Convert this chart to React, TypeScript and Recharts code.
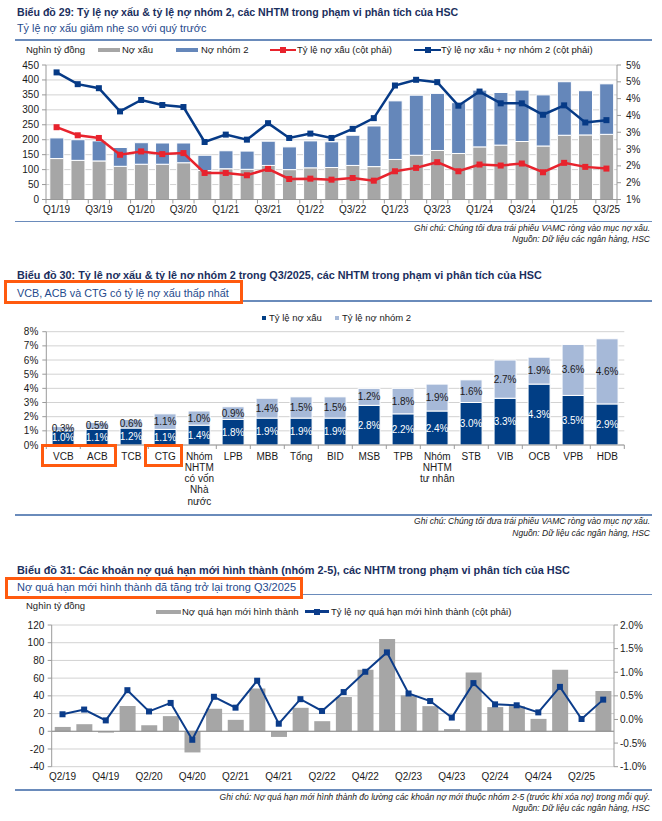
import React from 'react';
import {
  ComposedChart,
  BarChart,
  Bar,
  Line,
  XAxis,
  YAxis,
  CartesianGrid,
  LabelList,
  ReferenceLine,
} from 'recharts';

const FONT = '"Liberation Sans", Arial, Helvetica, sans-serif';
const TITLE_C = '#1B2F5E';
const SUB_C = '#1F4A8C';
const RULE_C = '#6A8BBB';
const ORANGE = '#FF5A0E';
const TEXT_C = '#1a1a1a';
const AXIS_C = '#9a9a9a';
const GRID_C = '#D2D2D2';

// ---------- Chart 29 data ----------
const quarters29 = [
  'Q1/19', 'Q2/19', 'Q3/19', 'Q4/19', 'Q1/20', 'Q2/20', 'Q3/20', 'Q4/20', 'Q1/21', 'Q2/21',
  'Q3/21', 'Q4/21', 'Q1/22', 'Q2/22', 'Q3/22', 'Q4/22', 'Q1/23', 'Q2/23', 'Q3/23', 'Q4/23',
  'Q1/24', 'Q2/24', 'Q3/24', 'Q4/24', 'Q1/25', 'Q2/25', 'Q3/25',
];
const npl29 = [137, 131, 129, 111, 118, 118, 123, 97, 103, 101, 114, 100, 106, 107, 114, 110, 134, 148, 164, 154, 176, 182, 194, 179, 215, 216, 218];
const group2_29 = [69, 69, 67, 63, 72, 71, 66, 51, 60, 61, 81, 76, 90, 86, 101, 136, 196, 201, 191, 170, 190, 176, 172, 171, 179, 148, 169];
const nplRatio29 = [3.15, 2.91, 2.83, 2.33, 2.43, 2.35, 2.38, 1.79, 1.79, 1.72, 1.91, 1.61, 1.62, 1.59, 1.64, 1.56, 1.84, 1.94, 2.11, 1.84, 2.04, 2.01, 2.07, 1.81, 2.09, 1.97, 1.92];
const nplG2Ratio29 = [4.78, 4.43, 4.31, 3.62, 3.96, 3.81, 3.75, 2.71, 2.93, 2.78, 3.27, 2.83, 2.96, 2.83, 3.1, 3.42, 4.39, 4.56, 4.49, 3.79, 4.21, 3.86, 3.86, 3.52, 3.8, 3.29, 3.36];
const leftTicks29 = [0, 50, 100, 150, 200, 250, 300, 350, 400, 450];
const rightTicks29 = [1, 1.5, 2, 2.5, 3, 3.5, 4, 4.5, 5];

// ---------- Chart 30 data ----------
const banks30 = [
  'VCB', 'ACB', 'TCB', 'CTG', 'Nhóm NHTM có vốn Nhà nước', 'LPB', 'MBB', 'Tổng', 'BID', 'MSB',
  'TPB', 'Nhóm NHTM tư nhân', 'STB', 'VIB', 'OCB', 'VPB', 'HDB',
];
const nplRate30 = [1.0, 1.1, 1.2, 1.1, 1.4, 1.8, 1.9, 1.9, 1.9, 2.8, 2.2, 2.4, 3.0, 3.3, 4.3, 3.5, 2.9];
const g2Rate30 = [0.3, 0.5, 0.6, 1.1, 1.0, 0.9, 1.4, 1.5, 1.5, 1.2, 1.8, 1.9, 1.6, 2.7, 1.9, 3.6, 4.6];
const bankTickLines: Record<string, string[]> = {
  'Nhóm NHTM có vốn Nhà nước': ['Nhóm', 'NHTM', 'có vốn', 'Nhà', 'nước'],
  'Nhóm NHTM tư nhân': ['Nhóm', 'NHTM', 'tư nhân'],
};
const ticks30 = [0, 1, 2, 3, 4, 5, 6, 7, 8];

// ---------- Chart 31 data ----------
const quarters31 = [
  'Q2/19', 'Q3/19', 'Q4/19', 'Q1/20', 'Q2/20', 'Q3/20', 'Q4/20', 'Q1/21', 'Q2/21', 'Q3/21',
  'Q4/21', 'Q1/22', 'Q2/22', 'Q3/22', 'Q4/22', 'Q1/23', 'Q2/23', 'Q3/23', 'Q4/23', 'Q1/24',
  'Q2/24', 'Q3/24', 'Q4/24', 'Q1/25', 'Q2/25', 'Q3/25',
];
const newOverdue31 = [4.9, 8.0, -1.5, 28.4, 6.8, 17.1, -23.9, 25.4, 12.9, 48.2, -6.4, 26.5, 11.4, 38.7, 69.4, 104.3, 40.6, 28.4, 2.5, 66.4, 27.3, 28.4, 14.0, 69.4, 0, 45.5];
const newOverdueRatio31 = [0.11, 0.21, -0.02, 0.62, 0.17, 0.35, -0.43, 0.48, 0.25, 0.82, -0.09, 0.43, 0.18, 0.58, 1.01, 1.42, 0.55, 0.39, 0.04, 0.77, 0.32, 0.3, 0.15, 0.69, 0.01, 0.42];
const leftTicks31 = [-40, -20, 0, 20, 40, 60, 80, 100, 120];
const rightTicks31 = [-1, -0.5, 0, 0.5, 1, 1.5, 2];

const data29 = quarters29.map((q, i) => ({ q, npl: npl29[i], g2: group2_29[i], r1: nplRatio29[i], r2: nplG2Ratio29[i] }));
const data30 = banks30.map((b, i) => ({ b, npl: nplRate30[i], g2: g2Rate30[i] }));
const data31 = quarters31.map((q, i) => ({ q, v: newOverdue31[i], r: newOverdueRatio31[i] }));

// ---------- helpers ----------
const Txt = ({ x, y, size = 10, bold = false, italic = false, color = TEXT_C, right, children }: any) => (
  <div
    style={{
      position: 'absolute',
      left: right === undefined ? x : undefined,
      right,
      top: y - size * 0.6,
      fontSize: size,
      lineHeight: `${size * 1.2}px`,
      fontWeight: bold ? 700 : 400,
      fontStyle: italic ? 'italic' : 'normal',
      color,
      fontFamily: FONT,
      whiteSpace: 'nowrap',
    }}
  >
    {children}
  </div>
);

const Rule = ({ x1, x2, y, h = 1.5 }: any) => (
  <div style={{ position: 'absolute', left: x1, top: y - h / 2, width: x2 - x1, height: h, background: RULE_C }} />
);

const Box = ({ x1, y1, x2, y2, b = 3.5 }: any) => (
  <div
    style={{
      position: 'absolute',
      left: x1,
      top: y1,
      width: x2 - x1,
      height: y2 - y1,
      border: `${b}px solid ${ORANGE}`,
      boxSizing: 'border-box',
    }}
  />
);

const Swatch = ({ x1, x2, y, color, h = 4 }: any) => (
  <div style={{ position: 'absolute', left: x1, top: y - h / 2, width: x2 - x1, height: h, background: color }} />
);

const LineSwatch = ({ x1, x2, y, color }: any) => (
  <>
    <div style={{ position: 'absolute', left: x1, top: y - 1.25, width: x2 - x1, height: 2.5, background: color }} />
    <div style={{ position: 'absolute', left: (x1 + x2) / 2 - 3, top: y - 3, width: 6, height: 6, background: color }} />
  </>
);

const squareDot = (color: string, s: number) => (props: any) => {
  const { cx, cy, index } = props;
  if (cx == null || cy == null) return <g key={`e-${index}`} />;
  return <rect key={`d-${index}`} x={cx - s / 2} y={cy - s / 2} width={s} height={s} fill={color} />;
};

const tickStyle = { fontSize: 10, fill: TEXT_C, fontFamily: FONT };

// band tick: boundary tick marks + label every n
const makeBandTick = (bw: number, every: number, count: number, dy: number, marks: boolean) => (props: any) => {
  const { x, y, payload } = props;
  const i = payload?.index ?? props.index ?? 0;
  return (
    <g>
      {marks && <line x1={x - bw / 2} x2={x - bw / 2} y1={y} y2={y + 4} stroke={AXIS_C} />}
      {marks && i === count - 1 && <line x1={x + bw / 2} x2={x + bw / 2} y1={y} y2={y + 4} stroke={AXIS_C} />}
      {i % every === 0 && (
        <text x={x} y={y + dy} textAnchor="middle" fontSize={10} fill={TEXT_C} fontFamily={FONT}>
          {payload.value}
        </text>
      )}
    </g>
  );
};

const BW29 = (617 - 46) / quarters29.length;
const tick29 = makeBandTick(BW29, 2, quarters29.length, 13, true);

const BW30 = (624.3 - 46.3) / banks30.length;
const tick30 = (props: any) => {
  const { x, y, payload } = props;
  const i = payload?.index ?? props.index ?? 0;
  const lines = bankTickLines[payload.value] || [payload.value];
  return (
    <g>
      <line x1={x - BW30 / 2} x2={x - BW30 / 2} y1={y} y2={y + 4} stroke={AXIS_C} />
      {i === banks30.length - 1 && <line x1={x + BW30 / 2} x2={x + BW30 / 2} y1={y} y2={y + 4} stroke={AXIS_C} />}
      <text textAnchor="middle" fontSize={10} fill={TEXT_C} fontFamily={FONT}>
        {lines.map((l: string, k: number) => (
          <tspan key={k} x={x} y={y + 14.5 + k * 11.3}>
            {l}
          </tspan>
        ))}
      </text>
    </g>
  );
};

const BW31 = (614 - 51.7) / quarters31.length;
const tick31 = makeBandTick(BW31, 2, quarters31.length, 13, false);

const pct0 = (v: number) => `${Math.round(v)}%`;

export default function App() {
  return (
    <div
      style={{
        position: 'absolute',
        left: 0,
        top: 0,
        width: 662,
        height: 821,
        background: '#fff',
        overflow: 'hidden',
        fontFamily: FONT,
      }}
    >
      {/* ================= Chart 29 ================= */}
      <Txt x={17} y={12} size={10.6} bold color={TITLE_C}>
        Biểu đồ 29: Tỷ lệ nợ xấu &amp; tỷ lệ nợ nhóm 2, các NHTM trong phạm vi phân tích của HSC
      </Txt>
      <Txt x={17} y={28.5} size={10.8} color={SUB_C}>
        Tỷ lệ nợ xấu giảm nhẹ so với quý trước
      </Txt>
      <Rule x1={15} x2={652} y={40} />

      <div style={{ position: 'absolute', left: 0, top: 0 }}>
        <ComposedChart
          width={662}
          height={225}
          data={data29}
          margin={{ top: 65, right: 0, bottom: 5.5, left: 0 }}
          barCategoryGap="18%"
        >
          <CartesianGrid vertical={false} stroke={GRID_C} yAxisId="left" />
          <XAxis
            dataKey="q"
            interval={0}
            tickSize={0}
            tickMargin={0}
            height={20}
            axisLine={{ stroke: AXIS_C }}
            tickLine={false}
            tick={tick29}
          />
          <YAxis
            yAxisId="left"
            domain={[0, 450]}
            ticks={leftTicks29}
            interval={0}
            width={46}
            tickSize={4}
            tickMargin={3}
            axisLine={{ stroke: AXIS_C }}
            tickLine={{ stroke: AXIS_C }}
            tick={tickStyle}
          />
          <YAxis
            yAxisId="right"
            orientation="right"
            domain={[1, 5]}
            ticks={rightTicks29}
            interval={0}
            width={45}
            tickSize={4}
            tickMargin={5}
            tickFormatter={pct0}
            axisLine={{ stroke: AXIS_C }}
            tickLine={{ stroke: AXIS_C }}
            tick={tickStyle}
          />
          <Bar yAxisId="left" dataKey="npl" stackId="a" fill="#A6A6A6" stroke="#fff" strokeWidth={1} isAnimationActive={false} />
          <Bar yAxisId="left" dataKey="g2" stackId="a" fill="#6587BA" stroke="#fff" strokeWidth={1} isAnimationActive={false} />
          <Line
            yAxisId="right"
            dataKey="r1"
            stroke="#E8232D"
            strokeWidth={2.5}
            dot={squareDot('#E8232D', 6)}
            activeDot={false}
            isAnimationActive={false}
          />
          <Line
            yAxisId="right"
            dataKey="r2"
            stroke="#063A86"
            strokeWidth={2.5}
            dot={squareDot('#063A86', 6)}
            activeDot={false}
            isAnimationActive={false}
          />
        </ComposedChart>
      </div>

      {/* legend 29 */}
      <Txt x={26} y={50} size={9.5}>Nghìn tỷ đồng</Txt>
      <Swatch x1={98} x2={120} y={50} color="#A6A6A6" />
      <Txt x={122} y={50} size={9.5}>Nợ xấu</Txt>
      <Swatch x1={176} x2={198} y={50} color="#6587BA" />
      <Txt x={201} y={50} size={9.5}>Nợ nhóm 2</Txt>
      <LineSwatch x1={270} x2={296} y={50} color="#E8232D" />
      <Txt x={297} y={50} size={9.5}>Tỷ lệ nợ xấu (cột phải)</Txt>
      <LineSwatch x1={414} x2={441} y={50} color="#063A86" />
      <Txt x={441} y={50} size={9.5}>Tỷ lệ nợ xấu + nợ nhóm 2 (cột phải)</Txt>

      <Rule x1={15} x2={652} y={221.5} />
      <Txt right={12} y={228} size={8.5} italic>
        Ghi chú: Chúng tôi đưa trái phiếu VAMC ròng vào mục nợ xấu.
      </Txt>
      <Txt right={12} y={239.5} size={8.5} italic>
        Nguồn: Dữ liệu các ngân hàng, HSC
      </Txt>

      {/* ================= Chart 30 ================= */}
      <Txt x={17} y={275.5} size={10.8} bold color={TITLE_C}>
        Biểu đồ 30: Tỷ lệ nợ xấu &amp; tỷ lệ nợ nhóm 2 trong Q3/2025, các NHTM trong phạm vi phân tích của HSC
      </Txt>
      <Rule x1={240} x2={652} y={301} />
      <Box x1={4} y1={280} x2={243} y2={304} />
      <Txt x={17} y={293.5} size={10.8} color={SUB_C}>
        VCB, ACB và CTG có tỷ lệ nợ xấu thấp nhất
      </Txt>

      <Swatch x1={262} x2={266} y={318} h={4.5} color="#013E85" />
      <Txt x={269} y={318} size={9.5}>Tỷ lệ nợ xấu</Txt>
      <Swatch x1={335} x2={339} y={318} h={4.5} color="#A6B9D8" />
      <Txt x={342} y={318} size={9.5}>Tỷ lệ nợ nhóm 2</Txt>

      <div style={{ position: 'absolute', left: 0, top: 300 }}>
        <BarChart
          width={662}
          height={215}
          data={data30}
          margin={{ top: 31.7, right: 37.7, bottom: 10, left: 0 }}
          barCategoryGap="17%"
        >
          <CartesianGrid vertical={false} stroke={GRID_C} />
          <XAxis
            dataKey="b"
            interval={0}
            tickSize={0}
            tickMargin={0}
            height={60}
            axisLine={{ stroke: AXIS_C }}
            tickLine={false}
            tick={tick30}
          />
          <YAxis
            domain={[0, 8]}
            ticks={ticks30}
            interval={0}
            width={46.3}
            tickSize={4}
            tickMargin={4}
            tickFormatter={(v: number) => `${v}%`}
            axisLine={{ stroke: AXIS_C }}
            tickLine={{ stroke: AXIS_C }}
            tick={tickStyle}
          />
          <Bar dataKey="npl" stackId="s" fill="#013E85" stroke="#fff" strokeWidth={1} isAnimationActive={false}>
            <LabelList
              dataKey="npl"
              position="center"
              formatter={(v: any) => `${Number(v).toFixed(1)}%`}
              fill="#ffffff"
              stroke="none"
              fontSize={10}
              fontFamily={FONT}
            />
          </Bar>
          <Bar dataKey="g2" stackId="s" fill="#A6B9D8" stroke="#fff" strokeWidth={1} isAnimationActive={false}>
            <LabelList
              dataKey="g2"
              position="center"
              formatter={(v: any) => `${Number(v).toFixed(1)}%`}
              fill="#1a1a1a"
              stroke="none"
              fontSize={10}
              fontFamily={FONT}
            />
          </Bar>
        </BarChart>
      </div>

      <Box x1={40.7} y1={443.5} x2={117.3} y2={467} />
      <Box x1={144.3} y1={443.5} x2={183.3} y2={467} />

      <Rule x1={15} x2={652} y={515} />
      <Txt right={12} y={521.5} size={8.5} italic>
        Ghi chú: Chúng tôi đưa trái phiếu VAMC ròng vào mục nợ xấu.
      </Txt>
      <Txt right={12} y={533} size={8.5} italic>
        Nguồn: Dữ liệu các ngân hàng, HSC
      </Txt>

      {/* ================= Chart 31 ================= */}
      <Txt x={17} y={571} size={10.9} bold color={TITLE_C}>
        Biểu đồ 31: Các khoản nợ quá hạn mới hình thành (nhóm 2-5), các NHTM trong phạm vi phân tích của HSC
      </Txt>
      <Rule x1={300} x2={652} y={594.5} />
      <Box x1={5} y1={577} x2={303} y2={599} />
      <Txt x={17} y={588} size={11} color={SUB_C}>
        Nợ quá hạn mới hình thành đã tăng trở lại trong Q3/2025
      </Txt>

      <Txt x={26} y={606} size={9.5}>Nghìn tỷ đồng</Txt>
      <Swatch x1={156} x2={181} y={611.5} color="#A6A6A6" />
      <Txt x={182} y={611.5} size={9.5}>Nợ quá hạn mới hình thành</Txt>
      <LineSwatch x1={305} x2={329} y={611.5} color="#0B3C8A" />
      <Txt x={331} y={611.5} size={9.5}>Tỷ lệ nợ quá hạn mới hình thành (cột phải)</Txt>

      <div style={{ position: 'absolute', left: 0, top: 560 }}>
        <ComposedChart
          width={662}
          height={230}
          data={data31}
          margin={{ top: 65, right: 0, bottom: 3.3, left: 0 }}
          barCategoryGap="14%"
        >
          <CartesianGrid vertical={false} stroke={GRID_C} yAxisId="left" />
          <XAxis
            dataKey="q"
            interval={0}
            tickSize={0}
            tickMargin={0}
            height={20}
            axisLine={false}
            tickLine={false}
            tick={tick31}
          />
          <YAxis
            yAxisId="left"
            domain={[-40, 120]}
            ticks={leftTicks31}
            interval={0}
            width={51.7}
            tickSize={4}
            tickMargin={3.4}
            axisLine={{ stroke: AXIS_C }}
            tickLine={{ stroke: AXIS_C }}
            tick={tickStyle}
          />
          <YAxis
            yAxisId="right"
            orientation="right"
            domain={[-1, 2]}
            ticks={rightTicks31}
            interval={0}
            width={48}
            tickSize={4}
            tickMargin={2}
            tickFormatter={(v: number) => `${v.toFixed(1)}%`}
            axisLine={{ stroke: AXIS_C }}
            tickLine={{ stroke: AXIS_C }}
            tick={tickStyle}
          />
          <ReferenceLine yAxisId="left" y={0} stroke="#8a8a8a" />
          <Bar yAxisId="left" dataKey="v" fill="#A6A6A6" isAnimationActive={false} />
          <Line
            yAxisId="right"
            dataKey="r"
            stroke="#0B3C8A"
            strokeWidth={2}
            dot={squareDot('#0B3C8A', 6)}
            activeDot={false}
            isAnimationActive={false}
          />
        </ComposedChart>
      </div>

      <Rule x1={15} x2={652} y={790} />
      <Txt right={12} y={797} size={8.5} italic>
        Ghi chú: Nợ quá hạn mới hình thành đo lường các khoản nợ mới thuộc nhóm 2-5 (trước khi xóa nợ) trong mỗi quý.
      </Txt>
      <Txt right={12} y={808.5} size={8.5} italic>
        Nguồn: Dữ liệu các ngân hàng, HSC
      </Txt>
    </div>
  );
}
